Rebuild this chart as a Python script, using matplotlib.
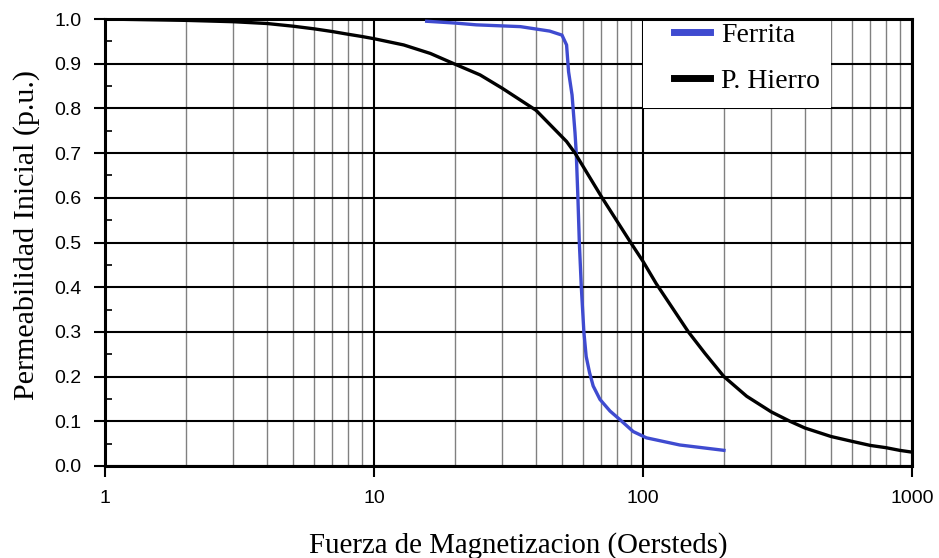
import matplotlib
matplotlib.use("Agg")
import matplotlib.pyplot as plt
from matplotlib.patches import Rectangle
from matplotlib.ticker import FixedLocator, FixedFormatter, LogLocator, NullFormatter

# curvas
ferrita_h = [15.7, 20, 24, 35, 45, 50, 52, 52.9, 54.5, 55.9, 56.5, 57.3, 58,
             59, 60.3, 61.5, 63.3, 65.3, 69.2, 75.4, 82, 92, 103, 137, 200]
ferrita_mu = [0.995, 0.991, 0.987, 0.983, 0.973, 0.964, 0.942, 0.882, 0.830,
              0.745, 0.700, 0.600, 0.500, 0.400, 0.300, 0.245, 0.209, 0.179, 0.149,
              0.123, 0.104, 0.077, 0.063, 0.047, 0.035]

hierro_h = [1, 2, 3, 4, 5, 6, 7, 8, 9, 10, 12.9, 16.2, 20, 24.8, 30, 40, 52, 55.9,
            70.5, 90, 100, 112, 147.5, 170, 200, 243, 300, 352, 400, 500, 600, 700,
            800, 900, 1000]
hierro_mu = [1.0, 0.997, 0.994, 0.990, 0.984, 0.978, 0.972, 0.966, 0.961, 0.956,
             0.942, 0.923, 0.899, 0.875, 0.845, 0.796, 0.726, 0.700, 0.600, 0.500,
             0.458, 0.408, 0.300, 0.252, 0.200, 0.156, 0.121, 0.100, 0.085, 0.066,
             0.055, 0.046, 0.041, 0.035, 0.031]

x_ticks = [1, 10, 100, 1000]
x_tick_labels = ["1", "10", "100", "1000"]
y_ticks = [0.0, 0.1, 0.2, 0.3, 0.4, 0.5, 0.6, 0.7, 0.8, 0.9, 1.0]

serif = "Liberation Serif"
sans = "Liberation Sans"

fig = plt.figure(figsize=(9.39, 5.58), dpi=100)
ax = fig.add_axes([0.1118, 0.1649, 0.8594, 0.8010])

ax.set_xscale("log")
ax.set_xlim(1, 1000)
ax.set_ylim(0, 1)

ax.xaxis.set_major_locator(FixedLocator(x_ticks))
ax.xaxis.set_major_formatter(FixedFormatter(x_tick_labels))
ax.xaxis.set_minor_locator(LogLocator(base=10, subs=range(2, 10)))
ax.xaxis.set_minor_formatter(NullFormatter())
ax.yaxis.set_major_locator(FixedLocator(y_ticks))
ax.yaxis.set_major_formatter(FixedFormatter([f"{v:.1f}" for v in y_ticks]))
ax.yaxis.set_minor_locator(FixedLocator([v + 0.05 for v in y_ticks[:-1]]))

# rejilla
ax.grid(which="major", axis="both", color="black", lw=1.5)
ax.grid(which="minor", axis="x", color="#808080", lw=1.0)
ax.set_axisbelow(True)

ax.tick_params(which="major", direction="out", length=8, width=1.5,
               labelsize=14, labelfontfamily=sans, pad=9)
ax.tick_params(axis="y", which="minor", direction="in", length=5, width=1.2)
ax.tick_params(axis="x", which="minor", length=0)

for s in ax.spines.values():
    s.set_linewidth(2.2)

# fondo blanco de la leyenda
ax.add_patch(Rectangle((100, 0.8), 400, 0.2, facecolor="white",
                       edgecolor="none", zorder=2))

ax.plot(ferrita_h, ferrita_mu, color="#3f4bd0", lw=2.4, zorder=4, label="Ferrita")
ax.plot(hierro_h, hierro_mu, color="black", lw=2.4, zorder=4, label="P. Hierro")

leg = ax.legend(loc="upper left", bbox_to_anchor=(0.702, 0.999), frameon=False,
                prop={"family": serif, "size": 20}, handlelength=1.3,
                handletextpad=0.4, labelspacing=0.75, borderpad=0.1,
                borderaxespad=0)
for h in leg.get_lines():
    h.set_linewidth(5)

ax.set_xlabel("Fuerza de Magnetizacion (Oersteds)", fontfamily=serif, fontsize=20.8)
ax.xaxis.set_label_coords(0.512, -0.147)
ax.set_ylabel("Permeabilidad Inicial (p.u.)", fontfamily=serif, fontsize=21.6)
ax.yaxis.set_label_coords(-0.080, 0.517)

fig.savefig("out.png", dpi=100)
